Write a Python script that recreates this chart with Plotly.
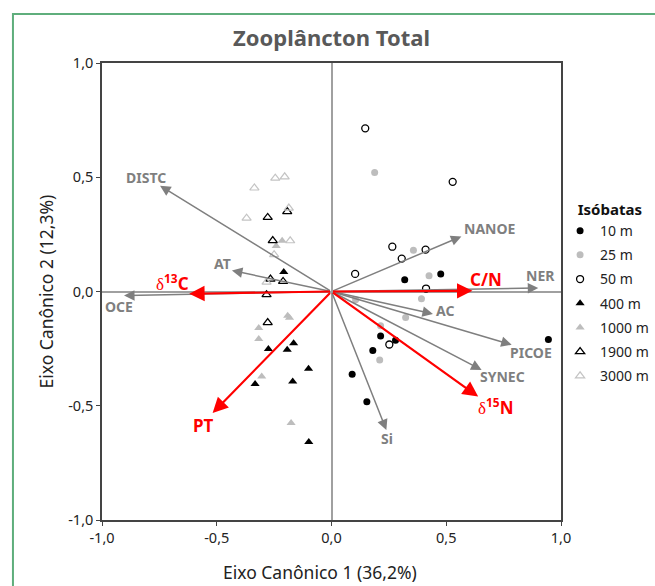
import plotly.graph_objects as go

# ---------------- data ----------------
title_text = "Zooplâncton Total"
x_title = "Eixo Canônico 1 (36,2%)"
y_title = "Eixo Canônico 2 (12,3%)"
legend_title = "Isóbatas"
tick_vals = [-1.0, -0.5, 0.0, 0.5, 1.0]
tick_text = ["-1,0", "-0,5", "0,0", "0,5", "1,0"]

# sample scores by isobath
x_10 = [0.319, 0.476, 0.214, 0.279, 0.180, 0.945, 0.090, 0.154]
y_10 = [0.051, 0.077, -0.195, -0.213, -0.258, -0.210, -0.362, -0.482]

x_25 = [0.188, 0.357, 0.425, 0.392, 0.105, 0.323, 0.214, 0.210]
y_25 = [0.521, 0.180, 0.069, -0.032, -0.036, -0.114, -0.150, -0.300]

x_50 = [0.528, 0.265, 0.410, 0.306, 0.103, 0.412, 0.252, 0.147]
y_50 = [0.480, 0.196, 0.183, 0.144, 0.077, 0.013, -0.232, 0.714]

x_400 = [-0.208, -0.165, -0.275, -0.193, -0.100, -0.169, -0.333, -0.099]
y_400 = [0.085, -0.226, -0.252, -0.255, -0.338, -0.394, -0.405, -0.659]

x_1000 = [-0.215, -0.241, -0.191, -0.183, -0.317, -0.317, -0.304, -0.176]
y_1000 = [0.222, 0.199, -0.106, -0.115, -0.160, -0.208, -0.372, -0.576]

x_1900 = [-0.193, -0.278, -0.256, -0.266, -0.211, -0.283, -0.278]
y_1900 = [0.350, 0.324, 0.223, 0.054, 0.044, -0.014, -0.136]

x_3000 = [-0.245, -0.204, -0.336, -0.186, -0.370, -0.180, -0.250, -0.283]
y_3000 = [0.496, 0.502, 0.453, 0.365, 0.321, 0.222, 0.161, 0.041]

# environmental / isotope vectors
vec_names = ["DISTC", "AT", "OCE", "NANOE", "NER", "AC", "PICOE", "SYNEC", "Si"]
vec_x = [-0.747, -0.434, -0.904, 0.566, 0.901, 0.442, 0.785, 0.654, 0.239]
vec_y = [0.463, 0.092, -0.018, 0.241, 0.015, -0.098, -0.233, -0.343, -0.606]

red_names = ["δ13C", "PT", "C/N", "δ15N"]
red_x = [-0.620, -0.518, 0.614, 0.639]
red_y = [-0.010, -0.532, 0.003, -0.460]

# ---------------- styles ----------------
FONT = "Noto Sans"
GRAY_VEC = "#7f7f7f"
RED = "#ff0000"

vec_label_shift = {
    "DISTC": (-14, 8), "AT": (-9, 7), "OCE": (-5, -11), "NANOE": (29, 8),
    "NER": (2, 13), "AC": (12, 3), "PICOE": (19, -8), "SYNEC": (21, -7), "Si": (1, -9),
}
red_label_shift = {"δ13C": (-17, 11), "PT": (-9, -12), "C/N": (14, 11), "δ15N": (17, -10)}
red_label_text = {
    "δ13C": "<span style='font-family:Liberation Serif;font-weight:normal'>δ</span><sup>13</sup>C",
    "δ15N": "<span style='font-family:Liberation Serif;font-weight:normal'>δ</span><sup>15</sup>N",
    "PT": "PT", "C/N": "C/N",
}

fig = go.Figure()

def add(xs, ys, name, symbol, color, line_color, line_width, size):
    fig.add_trace(go.Scatter(
        x=xs, y=ys, mode="markers", name=name, legendgroup=name,
        marker=dict(symbol=symbol, color=color, size=size,
                    line=dict(color=line_color, width=line_width)),
    ))

add(x_10, y_10, "10 m", "circle", "#000000", "#000000", 0, 7)
add(x_25, y_25, "25 m", "circle", "#bdbdbd", "#bdbdbd", 0, 7)
add(x_50, y_50, "50 m", "circle-open", "#000000",
    ["#000000"] * (len(x_50) - 1) + ["#b8b8b8"], 1.3, 7)
add(x_400, y_400, "400 m", "triangle-up", "#000000", "#000000", 0, 8)
add(x_1000, y_1000, "1000 m", "triangle-up", "#bdbdbd", "#bdbdbd", 0, 8)
add(x_1900, y_1900, "1900 m", "triangle-up-open", "#000000", "#000000", 1.3, 8)
add(x_3000, y_3000, "3000 m", "triangle-up-open", "#c4c4c4", "#c4c4c4", 1.2, 8)

annotations = []
for n, vx, vy in zip(vec_names, vec_x, vec_y):
    annotations.append(dict(
        x=vx, y=vy, ax=0, ay=0, xref="x", yref="y", axref="x", ayref="y",
        text="", showarrow=True, arrowhead=2, arrowsize=1.4, arrowwidth=1.5,
        arrowcolor=GRAY_VEC, standoff=0, startstandoff=0))
    dx, dy = vec_label_shift[n]
    annotations.append(dict(
        x=vx, y=vy, xref="x", yref="y", text="<b>" + n + "</b>", showarrow=False,
        xshift=dx, yshift=dy, font=dict(family=FONT, size=14, color=GRAY_VEC)))

for n, vx, vy in zip(red_names, red_x, red_y):
    annotations.append(dict(
        x=vx, y=vy, ax=0, ay=0, xref="x", yref="y", axref="x", ayref="y",
        text="", showarrow=True, arrowhead=2, arrowsize=1.4, arrowwidth=2.2,
        arrowcolor=RED, standoff=0, startstandoff=0))
    dx, dy = red_label_shift[n]
    annotations.append(dict(
        x=vx, y=vy, xref="x", yref="y", text="<b>" + red_label_text[n] + "</b>",
        showarrow=False, xshift=dx, yshift=dy,
        font=dict(family=FONT, size=17, color=RED)))

# titles
annotations.append(dict(x=0.5, y=1.0, xref="paper", yref="paper", yshift=26,
                        yanchor="middle",
                        text="<b>" + title_text + "</b>", showarrow=False,
                        font=dict(family=FONT, size=22, color="#595959")))
annotations.append(dict(x=0.475, y=0, xref="paper", yref="paper", yshift=-52,
                        yanchor="middle",
                        text=x_title, showarrow=False,
                        font=dict(family=FONT, size=17.5, color="#222222")))
annotations.append(dict(x=0, y=0.5, xref="paper", yref="paper", xshift=-57,
                        xanchor="center",
                        text=y_title, showarrow=False, textangle=-90,
                        font=dict(family=FONT, size=17.5, color="#222222")))

axis_common = dict(
    range=[-1, 1], tickvals=tick_vals, ticktext=tick_text,
    showgrid=False, zeroline=True, zerolinecolor="#a0a0a0", zerolinewidth=1.5,
    showline=True, mirror=True, linecolor="#444444", linewidth=1.5,
    ticks="outside", ticklen=4, tickcolor="#444444",
    tickfont=dict(family=FONT, size=14.5, color="#222222"),
)

fig.update_layout(
    width=655, height=586,
    margin=dict(l=102, r=94, t=63, b=66, autoexpand=False),
    paper_bgcolor="white", plot_bgcolor="white",
    xaxis=axis_common, yaxis=axis_common,
    showlegend=True,
    legend=dict(
        x=0.998, y=0.71, xanchor="left", yanchor="top",
        title=dict(text="&nbsp;&nbsp;&nbsp;&nbsp;<b>" + legend_title + "</b>",
                   font=dict(family=FONT, size=15, color="#111111")),
        font=dict(family=FONT, size=14, color="#222222"),
        bgcolor="rgba(0,0,0,0)", tracegroupgap=3, itemwidth=30,
        traceorder="grouped",
    ),
    annotations=annotations,
    shapes=[dict(type="rect", xref="paper", yref="paper",
                 x0=-0.194, y0=-0.4, x1=1.6, y1=1.107,
                 line=dict(color="#5fae7c", width=2), fillcolor="rgba(0,0,0,0)",
                 layer="below")],
)

fig.write_html("out.html")
